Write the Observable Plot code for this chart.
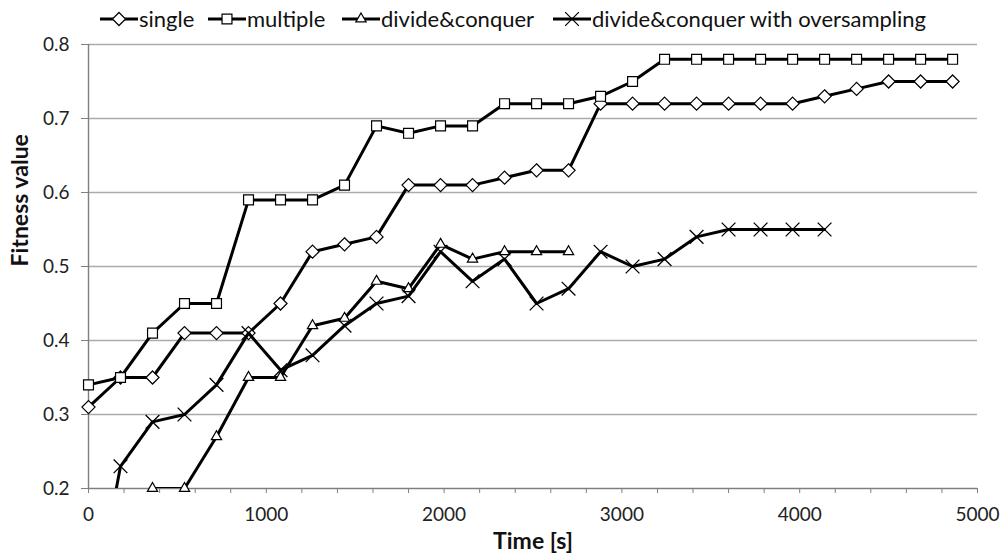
<!DOCTYPE html>
<html><head><meta charset="utf-8">
<script src="https://cdn.jsdelivr.net/npm/d3@7"></script>
<script src="https://cdn.jsdelivr.net/npm/@observablehq/plot@0.6"></script>
<style>
body{margin:0;background:#fff;font-family:Lato,"Open Sans",sans-serif;}
#legend{position:relative;height:32px;width:1001px;}
.item{position:absolute;top:6px;display:flex;align-items:center;font-size:22px;line-height:26px;color:#111;white-space:nowrap;}
.item svg{margin-right:1px;}
</style></head><body>
<div id="legend"></div>
<div id="chart"></div>
<script>
// ---- data ----
const time = [0,180,360,540,720,900,1080,1260,1440,1620,1800,1980,2160,2340,2520,2700,2880,3060,3240,3420,3600,3780,3960,4140,4320,4500,4680,4860];
const seriesNames = ["single","multiple","divide&conquer","divide&conquer with oversampling"];
const single = [0.31,0.35,0.35,0.41,0.41,0.41,0.45,0.52,0.53,0.54,0.61,0.61,0.61,0.62,0.63,0.63,0.72,0.72,0.72,0.72,0.72,0.72,0.72,0.73,0.74,0.75,0.75,0.75];
const multiple = [0.34,0.35,0.41,0.45,0.45,0.59,0.59,0.59,0.61,0.69,0.68,0.69,0.69,0.72,0.72,0.72,0.73,0.75,0.78,0.78,0.78,0.78,0.78,0.78,0.78,0.78,0.78,0.78];
const divideConquer = [null,null,0.20,0.20,0.27,0.35,0.35,0.42,0.43,0.48,0.47,0.53,0.51,0.52,0.52,0.52];
const oversampling = [0.00,0.23,0.29,0.30,0.34,0.41,0.36,0.38,0.42,0.45,0.46,0.52,0.48,0.51,0.45,0.47,0.52,0.50,0.51,0.54,0.55,0.55,0.55,0.55];
const yTicks = [0.2,0.3,0.4,0.5,0.6,0.7,0.8];
const xTicks = [0,200,400,600,800,1000,1200,1400,1600,1800,2000,2200,2400,2600,2800,3000,3200,3400,3600,3800,4000,4200,4400,4600,4800,5000];
const xLabels = [0,1000,2000,3000,4000,5000];

// ---- styles ----
const symbols = ["diamond2","square2","triangle2","times"];
const radii = [5.9,6.3,4.9,6.3];
const legendLeft = [100,208,342,553];

const allValues = [single, multiple, divideConquer, oversampling];
const series = allValues.map((vals, k) => vals.map((v, i) => ({s: seriesNames[k], t: time[i], v})).filter(d => d.v != null));

const marks = [
  Plot.gridY(yTicks.filter(d => d > 0.2), {stroke: "#ababab", strokeOpacity: 1, strokeWidth: 1.4}),
  Plot.ruleY([0.2], {stroke: "#7f7f7f", strokeWidth: 1.4}),
  Plot.ruleX([0], {stroke: "#7f7f7f", strokeWidth: 1.4}),
  Plot.axisX({ticks: xTicks, tickSize: 5, tickPadding: 14, stroke: "#7f7f7f", fontSize: 19, fill: "#222",
    tickFormat: d => xLabels.includes(d) ? String(d) : "", label: null}),
  Plot.axisY({ticks: yTicks, tickSize: 7, tickPadding: 12, stroke: "#7f7f7f", fontSize: 19, fill: "#222",
    tickFormat: d3.format(".1f"), label: null}),
  Plot.text(["Time [s]"], {frameAnchor: "bottom", dy: 60, fontSize: 23, fontWeight: "bold", fill: "#111"}),
  Plot.text(["Fitness value"], {frameAnchor: "left", dx: -68, rotate: -90, fontSize: 23, fontWeight: "bold", fill: "#111"})
];
series.forEach((data, k) => {
  marks.push(Plot.line(data, {x: "t", y: "v", stroke: "#000", strokeWidth: 3, clip: true}));
  marks.push(Plot.dot(data, {x: "t", y: "v", symbol: () => symbols[k], r: radii[k],
    fill: k === 3 ? "none" : "#fff", stroke: "#000", strokeWidth: k === 3 ? 1.3 : 1.2}));
});

const chart = Plot.plot({
  width: 1001, height: 526,
  marginTop: 12, marginLeft: 88, marginRight: 24, marginBottom: 70,
  style: {fontFamily: "Lato, 'Open Sans', sans-serif", background: "#fff"},
  x: {domain: [0, 5000]},
  y: {domain: [0.2, 0.8]},
  symbol: {type: "identity"},
  marks
});
document.getElementById("chart").appendChild(chart);

// legend
const legend = d3.select("#legend");
const typeMap = {diamond2: d3.symbolDiamond2, square2: d3.symbolSquare2, triangle2: d3.symbolTriangle2, times: d3.symbolTimes};
seriesNames.forEach((name, k) => {
  const item = legend.append("div").attr("class", "item").style("left", legendLeft[k] + "px");
  const svg = item.append("svg").attr("width", 38).attr("height", 22);
  svg.append("line").attr("x1", 0).attr("x2", 38).attr("y1", 11).attr("y2", 11).attr("stroke", "#000").attr("stroke-width", 3);
  svg.append("path").attr("transform", "translate(19,11)")
    .attr("d", d3.symbol(typeMap[symbols[k]], Math.PI * radii[k] * radii[k])())
    .attr("fill", k === 3 ? "none" : "#fff").attr("stroke", "#000").attr("stroke-width", 1.2);
  item.append("span").text(name);
});
</script>
</body></html>
